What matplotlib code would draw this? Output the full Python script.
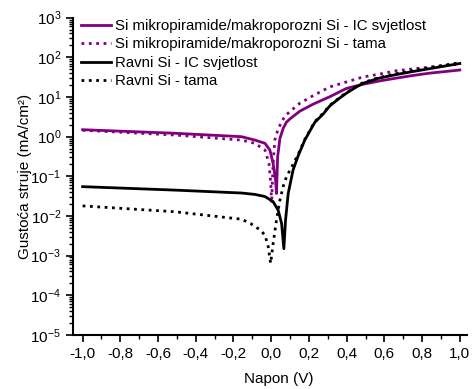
import matplotlib
matplotlib.use("Agg")
import matplotlib.pyplot as plt
from matplotlib.ticker import MultipleLocator, LogLocator, FixedLocator, NullFormatter

plt.rcParams['font.family'] = ['Liberation Sans', 'DejaVu Sans']
plt.rcParams['mathtext.default'] = 'regular'
plt.rcParams['axes.unicode_minus'] = False

# Si mikropiramide/makroporozni Si - IC svjetlost
v_mp_light = [-1.0, -0.51, -0.157, -0.086, -0.033, -0.007, 0.010, 0.023, 0.028,
              0.034, 0.046, 0.063, 0.08, 0.099, 0.152, 0.222, 0.311, 0.399, 0.487,
              0.576, 0.664, 0.752, 0.841, 1.0]
j_mp_light = [1.5, 1.22, 1.0, 0.82, 0.68, 0.46, 0.213, 0.082, 0.037,
              0.31, 0.9, 1.6, 2.3, 2.8, 4.4, 6.6, 10.2, 16.5, 21,
              25.5, 30, 35, 40, 48]

# Si mikropiramide/makroporozni Si - tama
v_mp_dark = [-1.0, -0.51, -0.157, -0.086, -0.033, -0.012, -0.002, 0.002, 0.010,
             0.019, 0.037, 0.072, 0.099, 0.152, 0.222, 0.311, 0.399, 0.487,
             0.576, 0.664, 0.841, 1.0]
j_mp_dark = [1.45, 1.10, 0.82, 0.68, 0.46, 0.213, 0.066, 0.021, 0.213,
             0.82, 1.6, 3.3, 4.3, 7.0, 10.8, 18, 24, 32,
             38, 46, 57, 68]

# Ravni Si - IC svjetlost
v_flat_light = [-1.0, -0.51, -0.157, -0.086, -0.033, 0.010, 0.037, 0.055, 0.067,
                0.076, 0.090, 0.116, 0.143, 0.178, 0.231, 0.275, 0.311, 0.364,
                0.399, 0.452, 0.487, 0.567, 0.664, 0.752, 0.841, 1.0]
j_flat_light = [0.055, 0.045, 0.038, 0.035, 0.031, 0.023, 0.014, 0.0065, 0.0015,
                0.0079, 0.037, 0.145, 0.33, 0.82, 2.3, 3.7, 6.0, 9.5,
                12.5, 18, 22.2, 29.6, 37, 44, 52, 70]

# Ravni Si - tama
v_flat_dark = [-1.0, -0.51, -0.157, -0.11, -0.06, -0.033, -0.016, -0.003, 0.010,
               0.028, 0.046, 0.063, 0.081, 0.108, 0.143, 0.178, 0.231, 0.275,
               0.311, 0.364, 0.399, 0.452, 0.487, 0.567, 0.664, 0.752, 0.841, 1.0]
j_flat_dark = [0.018, 0.0128, 0.0083, 0.0065, 0.0045, 0.0033, 0.0017, 0.00064, 0.0020,
               0.0079, 0.025, 0.055, 0.098, 0.17, 0.36, 0.85, 2.4, 3.9,
               6.2, 9.8, 13, 18.5, 23, 30.5, 39, 46, 55, 74]

labels = ["Si mikropiramide/makroporozni Si - IC svjetlost",
          "Si mikropiramide/makroporozni Si - tama",
          "Ravni Si - IC svjetlost",
          "Ravni Si - tama"]

x_ticks = [-1.0, -0.8, -0.6, -0.4, -0.2, 0.0, 0.2, 0.4, 0.6, 0.8, 1.0]
x_ticklabels = ["-1,0", "-0,8", "-0,6", "-0,4", "-0,2", "0,0", "0,2", "0,4", "0,6", "0,8", "1,0"]

purple = "#800080"

fig = plt.figure(figsize=(4.75, 3.89), dpi=100)
ax = fig.add_axes([0.1537, 0.1388, 0.829, 0.8157])

ax.plot(v_mp_light, j_mp_light, color=purple, lw=2, label=labels[0])
ax.plot(v_mp_dark, j_mp_dark, color=purple, lw=2, ls=':', label=labels[1])
ax.plot(v_flat_light, j_flat_light, color='black', lw=2, label=labels[2])
ax.plot(v_flat_dark, j_flat_dark, color='black', lw=2, ls=':', label=labels[3])

ax.set_yscale('log')
ax.set_ylim(1e-5, 1e3)
ax.set_xlim(-1.051, 1.037)

ax.xaxis.set_major_locator(FixedLocator(x_ticks))
ax.set_xticklabels(x_ticklabels)
ax.xaxis.set_minor_locator(MultipleLocator(0.1))
ax.yaxis.set_major_locator(LogLocator(base=10, numticks=20))
ax.yaxis.set_minor_locator(LogLocator(base=10, subs=range(2, 10), numticks=20))
ax.yaxis.set_minor_formatter(NullFormatter())

ax.tick_params(which='major', direction='out', length=5, width=1.2, labelsize=11)
ax.tick_params(which='minor', direction='out', length=3, width=1)

ax.spines['top'].set_visible(False)
ax.spines['right'].set_visible(False)
ax.spines['left'].set_linewidth(1.5)
ax.spines['bottom'].set_linewidth(1.5)

ax.set_xlabel("Napon (V)", fontsize=11)
ax.set_ylabel("Gustoća struje (mA/cm²)", fontsize=11)
ax.xaxis.set_label_coords(0.523, -0.116)
ax.yaxis.set_label_coords(-0.104, 0.5)

ax.legend(loc='upper left', frameon=False, fontsize=10.8, handlelength=2.0,
          handletextpad=0.3, labelspacing=0.3, borderaxespad=0.1,
          bbox_to_anchor=(0.0, 1.02))

fig.savefig("out.png", dpi=100)
